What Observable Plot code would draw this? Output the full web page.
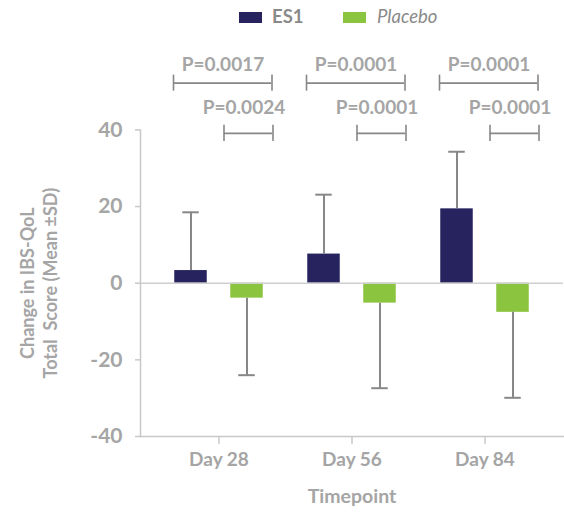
<!DOCTYPE html>
<html>
<head>
<meta charset="utf-8">
<script src="https://cdn.jsdelivr.net/npm/d3@7"></script>
<script src="https://cdn.jsdelivr.net/npm/@observablehq/plot@0.6"></script>
<style>
  body { margin: 0; background: #fff; font-family: Lato, "DejaVu Sans", sans-serif; }
  #legend { position: relative; width: 564px; height: 40px; }
  .sw { position: absolute; top: 12px; width: 23px; height: 11px; }
  .lt { position: absolute; top: 6px; font-size: 18.5px; line-height: 20px; color: #8a8a8a; }
  svg { display: block; }
</style>
</head>
<body>
<div id="legend">
  <div class="sw" style="left:239px;background:#27235e"></div>
  <div class="lt" style="left:272px;font-weight:bold">ES1</div>
  <div class="sw" style="left:343px;background:#8bc43f"></div>
  <div class="lt" style="left:377px;font-style:italic">Placebo</div>
</div>
<div id="chart"></div>
<script>
// ---- data ----
const timepoints = ["Day 28", "Day 56", "Day 84"];
const es1Mean = [3.3, 7.6, 19.4];
const es1SD = [15.2, 15.5, 14.9];
const placeboMean = [-3.9, -5.2, -7.6];
const placeboSD = [20.1, 22.2, 22.3];
const pRow1 = ["P=0.0017", "P=0.0001", "P=0.0001"];
const pRow2 = ["P=0.0024", "P=0.0001", "P=0.0001"];
const yTicks = [-40, -20, 0, 20, 40];

const es1Rows = timepoints.map((t, i) => ({t, mean: es1Mean[i], end: es1Mean[i] + es1SD[i]}));
const plcRows = timepoints.map((t, i) => ({t, mean: placeboMean[i], end: placeboMean[i] - placeboSD[i]}));
const p1Rows = timepoints.map((t, i) => ({t, label: pRow1[i]}));
const p2Rows = timepoints.map((t, i) => ({t, label: pRow2[i]}));

// annotation levels (in y units, above the axis)
const lvl1 = 52.2, lvl2 = 39.1, capH = 2.1;

const gray = "#a5a5a5";
const axisGray = "#c8c8c8";
const errGray = "#878787";

const chart = Plot.plot({
  width: 564,
  height: 476,
  marginLeft: 140,
  marginRight: 1,
  marginTop: 89.4,
  marginBottom: 80,
  style: {fontFamily: "Lato, sans-serif", background: "#fff"},
  x: {domain: timepoints, paddingInner: 0, paddingOuter: 0.084},
  y: {domain: [-40, 40]},
  marks: [
    Plot.barY(es1Rows, {x: "t", y: "mean", fill: "#27235e", insetLeft: 22.25, insetRight: 78.25}),
    Plot.barY(plcRows, {x: "t", y: "mean", fill: "#8bc43f", insetLeft: 78.25, insetRight: 22.25}),
    Plot.ruleY([0], {stroke: "#cfcfcf", strokeWidth: 1.5}),
    // error bars
    Plot.ruleX(es1Rows, {x: "t", y1: "mean", y2: "end", dx: -28, stroke: errGray, strokeWidth: 2}),
    Plot.tickY(es1Rows, {x: "t", y: "end", insetLeft: 30.25, insetRight: 86.25, stroke: errGray, strokeWidth: 2}),
    Plot.ruleX(plcRows, {x: "t", y1: "mean", y2: "end", dx: 28, stroke: errGray, strokeWidth: 2}),
    Plot.tickY(plcRows, {x: "t", y: "end", insetLeft: 86.25, insetRight: 30.25, stroke: errGray, strokeWidth: 2}),
    // p-value brackets row 1
    Plot.tickY(p1Rows, {x: "t", y: () => lvl1, insetLeft: 21.25, insetRight: 13.75, stroke: errGray, strokeWidth: 1.6}),
    Plot.ruleX(p1Rows, {x: "t", y1: () => lvl1 - capH, y2: () => lvl1 + capH, dx: -45.5, stroke: errGray, strokeWidth: 1.6}),
    Plot.ruleX(p1Rows, {x: "t", y1: () => lvl1 - capH, y2: () => lvl1 + capH, dx: 53, stroke: errGray, strokeWidth: 1.6}),
    Plot.text(p1Rows, {x: "t", y: () => lvl1, text: "label", dx: 4, dy: -18.5, fontSize: 19, fontWeight: "bold", fill: gray}),
    // p-value brackets row 2
    Plot.tickY(p2Rows, {x: "t", y: () => lvl2, insetLeft: 71.75, insetRight: 12.75, stroke: errGray, strokeWidth: 1.6}),
    Plot.ruleX(p2Rows, {x: "t", y1: () => lvl2 - capH, y2: () => lvl2 + capH, dx: 5, stroke: errGray, strokeWidth: 1.6}),
    Plot.ruleX(p2Rows, {x: "t", y1: () => lvl2 - capH, y2: () => lvl2 + capH, dx: 54, stroke: errGray, strokeWidth: 1.6}),
    Plot.text(p2Rows, {x: "t", y: () => lvl2, text: "label", dx: 25, dy: -25, fontSize: 19, fontWeight: "bold", fill: gray}),
    // axes
    Plot.frame({anchor: "left", stroke: axisGray, strokeWidth: 1.5}),
    Plot.frame({anchor: "bottom", stroke: axisGray, strokeWidth: 1.5}),
    Plot.axisY({ticks: yTicks, tickSize: 5, tickPadding: 13, tickFormat: d => String(d), fontSize: 21, fontWeight: "bold", fill: gray, stroke: axisGray, strokeWidth: 1.5, label: null}),
    Plot.axisX({tickSize: 8, tickPadding: 8, fontSize: 19, fontWeight: "bold", fill: gray, stroke: axisGray, strokeWidth: 1.5, label: null}),
    Plot.text(["Change in IBS-QoL\nTotal\u00a0 Score (Mean \u00b1SD)"], {text: d => d, frameAnchor: "left", textAnchor: "middle", lineAnchor: "middle", rotate: -90, dx: -102, lineHeight: 1.25, fontSize: 18, fontWeight: "bold", fill: gray}),
    Plot.text(["Timepoint"], {text: d => d, frameAnchor: "bottom", textAnchor: "middle", dy: 66, fontSize: 19.5, fontWeight: "bold", fill: gray})
  ]
});
document.getElementById("chart").appendChild(chart);
</script>
</body>
</html>
